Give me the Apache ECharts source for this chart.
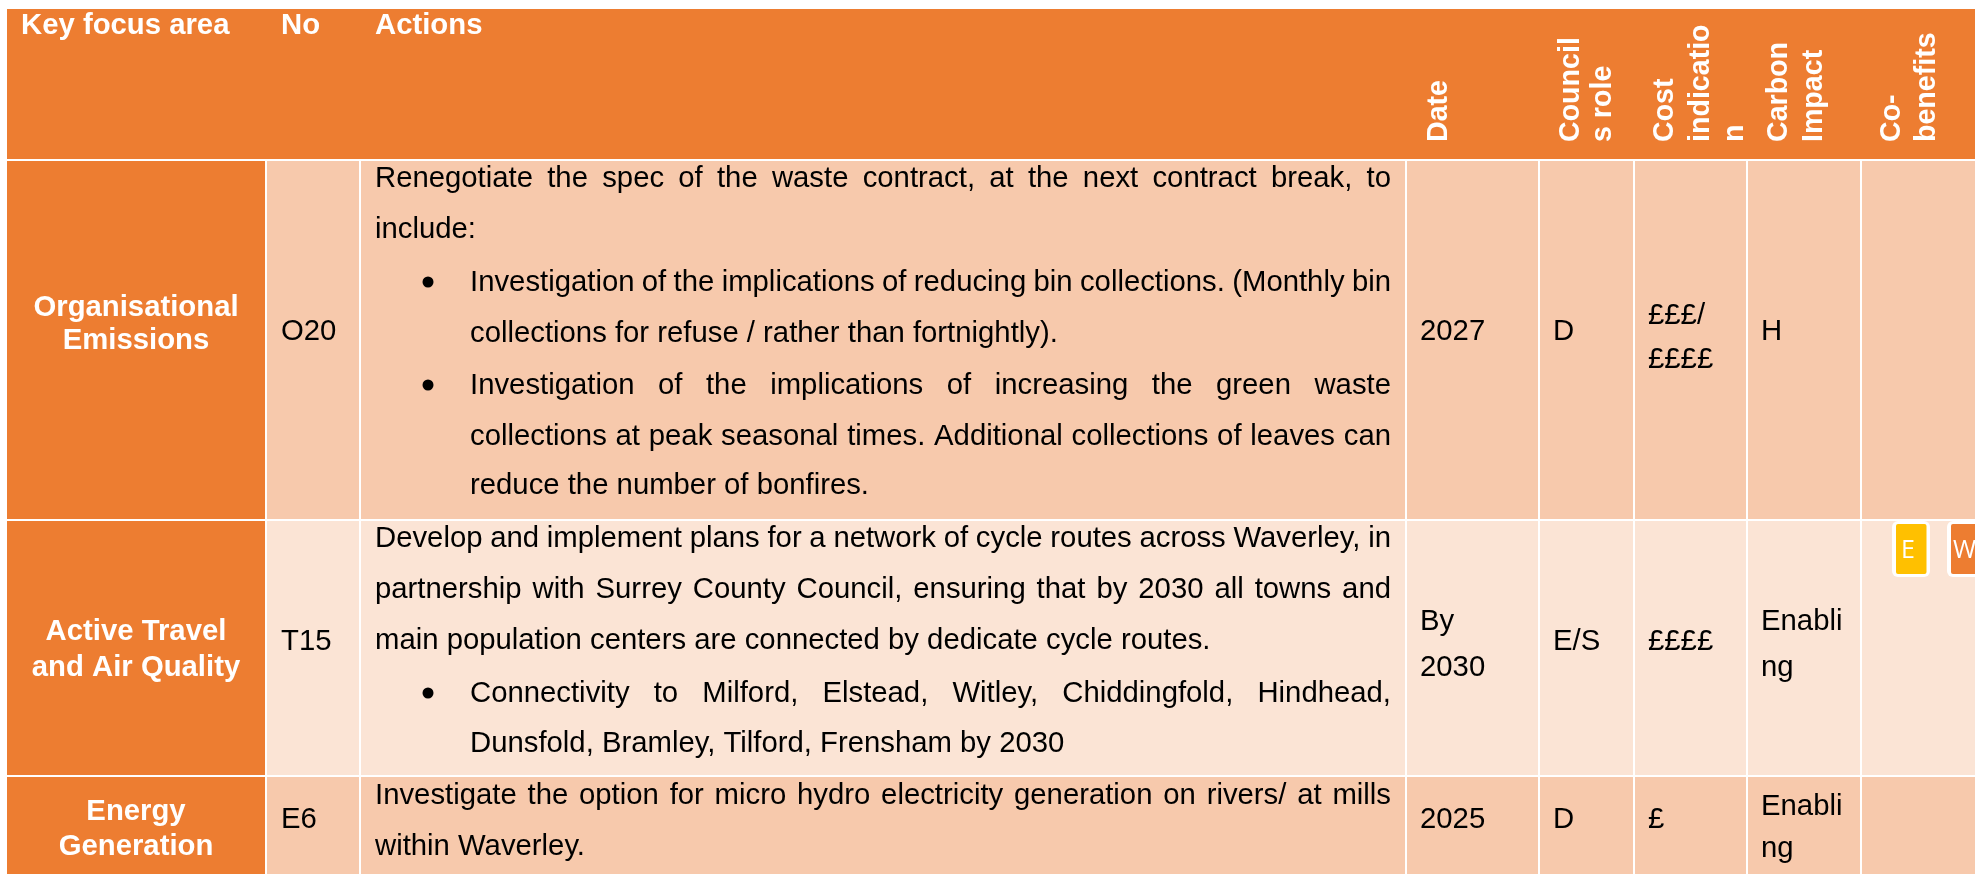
<!DOCTYPE html>
<html>
<head>
<meta charset="utf-8">
<title>Actions table</title>
<script src="https://cdn.jsdelivr.net/npm/echarts@6/dist/echarts.min.js"></script>
<style>
  html,body{margin:0;padding:0;background:#fff;overflow:hidden;}
  #main{width:1975px;height:874px;}
</style>
</head>
<body>
<div id="main"></div>
<script>
// table content
const topHeaders = ['Key focus area', 'No', 'Actions']
const sideHeaders = [['Date'], ['Council', 's role'], ['Cost', 'indicatio', 'n'], ['Carbon', 'Impact'], ['Co-', 'benefits']]
const focusAreas = [['Organisational', 'Emissions'], ['Active Travel', 'and Air Quality'], ['Energy', 'Generation']]
const actionNos = ['O20', 'T15', 'E6']
const dates = [['2027'], ['By', '2030'], ['2025']]
const roles = [['D'], ['E/S'], ['D']]
const costs = [['£££/', '££££'], ['££££'], ['£']]
const carbon = [['H'], ['Enabli', 'ng'], ['Enabli', 'ng']]
const badgeLabels = ['E', 'W']
// text, bullet level, justified
const actionsO20 = [
  ['Renegotiate the spec of the waste contract, at the next contract break, to', 0, true],
  ['include:', 0, false],
  ['Investigation of the implications of reducing bin collections. (Monthly bin', 1, true],
  ['collections for refuse / rather than fortnightly).', 2, false],
  ['Investigation of the implications of increasing the green waste', 1, true],
  ['collections at peak seasonal times. Additional collections of leaves can', 2, true],
  ['reduce the number of bonfires.', 2, false]
]
const actionsT15 = [
  ['Develop and implement plans for a network of cycle routes across Waverley, in', 0, true],
  ['partnership with Surrey County Council, ensuring that by 2030 all towns and', 0, true],
  ['main population centers are connected by dedicate cycle routes.', 0, false],
  ['Connectivity to Milford, Elstead, Witley, Chiddingfold, Hindhead,', 1, true],
  ['Dunsfold, Bramley, Tilford, Frensham by 2030', 2, false]
]
const actionsE6 = [
  ['Investigate the option for micro hydro electricity generation on rivers/ at mills', 0, true],
  ['within Waverley.', 0, false]
]

// layout, px
const colEdges = [7, 265, 267, 359, 361, 1405, 1407, 1538, 1540, 1633, 1635, 1746, 1748, 1860, 1862, 1975]
const rowEdges = [[161, 519], [521, 775], [777, 874]]
const actionBaselines = [[187, 238, 291, 342, 394, 445, 494], [547, 598, 649, 702, 752], [804, 855]]
const textFont = '29.3px "Liberation Sans", Arial, sans-serif'
const boldFont = 'bold 29.3px "Liberation Sans", Arial, sans-serif'
const sideFont = 'bold 28.6px "Liberation Sans", Arial, sans-serif'
const orange = '#ED7D31'
const rowFills = ['#F7C9AC', '#FBE4D5', '#F7C9AC']
const baselineShift = 8 // text is drawn by its middle, positions below are baselines
const sideShift = 10

const ctx = document.createElement('canvas').getContext('2d')
function textWidth(s, font) {
  ctx.font = font
  return ctx.measureText(s).width
}

let rects = [[7, 9, 1975, 159, orange]]
let labels = []
let bullets = []
function addLabel(text, x, y, font, fill, align, rotate) {
  labels.push({ text, x, y, font, fill, align: align || 'left', rotate: rotate || 0 })
}

topHeaders.forEach((t, i) => addLabel(t, [21, 281, 375][i], 34, boldFont, '#fff'))
const sideBaselines = [[1449], [1581, 1613], [1675, 1711, 1745], [1789, 1824], [1902, 1937]]
sideHeaders.forEach((lines, i) => {
  lines.forEach((t, j) => addLabel(t, sideBaselines[i][j], 142, sideFont, '#fff', 'left', Math.PI / 2))
})

// one text line, spread word by word when justified
function addActionLine(line, y) {
  const left = line[1] === 0 ? 375 : 470
  const right = 1391
  const words = line[0].split(' ')
  if (line[1] === 1) bullets.push([428, y - 9])
  if (!line[2]) {
    addLabel(line[0], left, y, textFont, '#000')
    return
  }
  const sum = words.reduce((a, w) => a + textWidth(w, textFont), 0)
  const gap = (right - left - sum) / (words.length - 1)
  let x = left
  words.forEach(w => {
    addLabel(w, x, y, textFont, '#000')
    x += textWidth(w, textFont) + gap
  })
}

function addStack(lines, x, ys, font, fill, align) {
  lines.forEach((t, i) => addLabel(t, x, ys[i], font, fill, align))
}

rowEdges.forEach((r, i) => {
  for (let c = 0; c < colEdges.length; c += 2) {
    rects.push([colEdges[c], r[0], colEdges[c + 1], r[1], c === 0 ? orange : rowFills[i]])
  }
})

const focusY = [[316, 349], [640, 676], [820, 855]]
const midY = [340, 650, 828]
focusAreas.forEach((lines, i) => addStack(lines, 136, focusY[i], boldFont, '#fff', 'center'))
actionNos.forEach((t, i) => addLabel(t, 281, midY[i], textFont, '#000'))
;[actionsO20, actionsT15, actionsE6].forEach((lines, i) => {
  lines.forEach((l, j) => addActionLine(l, actionBaselines[i][j]))
})
dates.forEach((lines, i) => addStack(lines, 1420, [[340], [630, 676], [828]][i], textFont, '#000'))
roles.forEach((lines, i) => addStack(lines, 1553, [[340], [650], [828]][i], textFont, '#000'))
costs.forEach((lines, i) => addStack(lines, 1648, [[324, 368], [650], [828]][i], textFont, '#000'))
carbon.forEach((lines, i) => addStack(lines, 1761, [[340], [630, 676], [815, 857]][i], textFont, '#000'))

const badgeX = [1892, 1947]
const badgeFills = ['#FFC000', orange]
badgeLabels.forEach((t, i) => {
  addLabel(t, badgeX[i] + (i === 0 ? 9 : 6), 559, '25px "Open Sans", sans-serif', '#fff')
})

const myChart = echarts.init(document.getElementById('main'), null, { renderer: 'canvas' })
myChart.setOption({
  animation: false,
  backgroundColor: '#fff',
  grid: { left: 0, right: 0, top: 0, bottom: 0 },
  xAxis: { type: 'value', min: 0, max: 1975, show: false },
  yAxis: { type: 'value', min: 0, max: 874, inverse: true, show: false },
  series: [
    {
      type: 'custom',
      silent: true,
      clip: true,
      data: rects.map(r => r.slice(0, 4)),
      renderItem(params, api) {
        const a = api.coord([api.value(0), api.value(1)])
        const b = api.coord([api.value(2), api.value(3)])
        return {
          type: 'rect',
          shape: { x: a[0], y: a[1], width: b[0] - a[0], height: b[1] - a[1] },
          style: { fill: rects[params.dataIndex][4] }
        }
      }
    },
    {
      // co-benefit badges
      type: 'custom',
      silent: true,
      clip: true,
      data: badgeX.map(x => [x, 521]),
      renderItem(params, api) {
        const p = api.coord([api.value(0), api.value(1)])
        return {
          type: 'group',
          children: [
            { type: 'rect', shape: { x: p[0], y: p[1], width: 38, height: 56, r: 6 }, style: { fill: '#fff' } },
            { type: 'rect', shape: { x: p[0] + 4, y: p[1] + 3, width: 30.5, height: 50, r: 2 }, style: { fill: badgeFills[params.dataIndex] } }
          ]
        }
      }
    },
    {
      // list bullets
      type: 'custom',
      silent: true,
      clip: true,
      data: bullets,
      renderItem(params, api) {
        const p = api.coord([api.value(0), api.value(1)])
        return { type: 'circle', shape: { cx: p[0], cy: p[1], r: 5.5 }, style: { fill: '#000' } }
      }
    },
    {
      type: 'custom',
      silent: true,
      clip: true,
      data: labels.map(l => [l.x, l.y]),
      renderItem(params, api) {
        const l = labels[params.dataIndex]
        const p = api.coord([api.value(0), api.value(1)])
        return {
          type: 'text',
          x: l.rotate ? p[0] - sideShift : p[0],
          y: l.rotate ? p[1] : p[1] - baselineShift,
          rotation: l.rotate,
          style: { text: l.text, font: l.font, fill: l.fill, align: l.align, verticalAlign: 'middle' }
        }
      }
    }
  ]
})
</script>
</body>
</html>
